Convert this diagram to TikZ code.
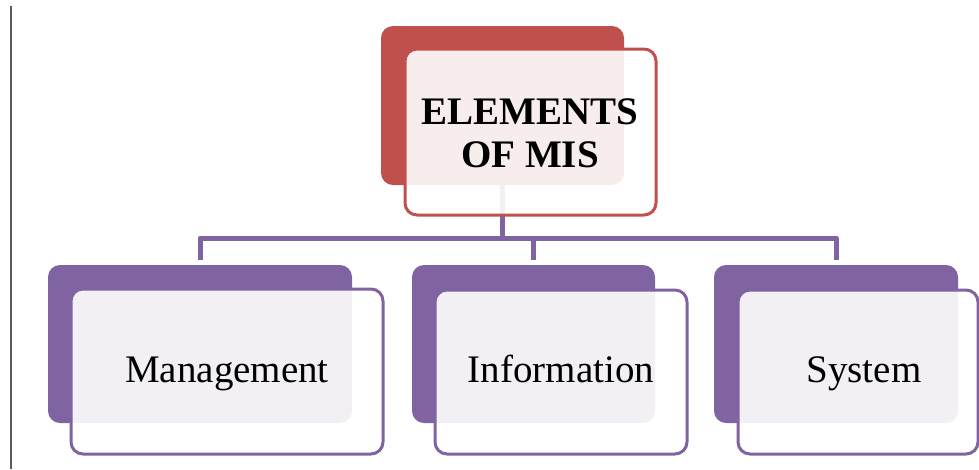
\documentclass[tikz,border=0pt]{standalone}
\usepackage{fontspec}
\setmainfont{Liberation Serif}
\definecolor{misred}{HTML}{C0504D}
\definecolor{mispurple}{HTML}{8064A2}
\definecolor{gline}{HTML}{5A5A5A}
\tikzset{
  backbox/.style={fill=#1, draw=none, rounded corners=12, anchor=north west, inner sep=0, outer sep=0},
  frontbox/.style={draw=#1, line width=3, fill=white, fill opacity=0.9, text opacity=1, rounded corners=12, anchor=north west, inner sep=0, outer sep=0, align=center, text=black},
  conn/.style={draw=mispurple, line width=5, line join=round},
  titletext/.style={font=\fontsize{39}{43}\selectfont\bfseries, anchor=base, inner sep=0},
  itemtext/.style={font=\fontsize{39}{43}\selectfont, anchor=base, inner sep=0}
}
\begin{document}
\begin{tikzpicture}[x=1pt,y=-1pt]
\useasboundingbox (0,0) rectangle (979,469);
\clip (0,0) rectangle (979,469);
\fill[white] (0,0) rectangle (979,469);
% left rule
\coordinate (lt) at (11,6);
\coordinate (lb) at (11,469);
\draw[gline, line width=2] (lt) -- (lb);
% back boxes
\node[backbox=misred, minimum width=243, minimum height=159] (tb) at (381,26) {};
\node[backbox=mispurple, minimum width=304, minimum height=158] (mb) at (48,265) {};
\node[backbox=mispurple, minimum width=243, minimum height=158] (ib) at (412,265) {};
\node[backbox=mispurple, minimum width=244, minimum height=158] (sb) at (714,265) {};
% connectors
\coordinate (hub) at (502.5,238);
\draw[conn] (tb.south) -- (hub);
\draw[conn, shorten >=5] (hub) -| (mb.north);
\draw[conn, shorten >=5] (hub) -| (ib.north);
\draw[conn, shorten >=5] (hub) -| (sb.north);
% front boxes
\node[frontbox=misred, minimum width=251, minimum height=166] (tf) at (405,49) {};
\node[frontbox=mispurple, minimum width=312, minimum height=165] (mf) at (71,289) {};
\node[frontbox=mispurple, minimum width=252, minimum height=164] (if) at (435,290) {};
\node[frontbox=mispurple, minimum width=240, minimum height=164] (sf) at (738,290) {};
% texts
\node[titletext] (tt1) at (530,124) {ELEMENTS};
\node[titletext] (tt2) at (530,167) {OF MIS};
\node[itemtext] (mt) at (227,382) {Management};
\node[itemtext] (it) at (561,382) {Information};
\node[itemtext] (st) at (864,382) {System};
\end{tikzpicture}
\end{document}
